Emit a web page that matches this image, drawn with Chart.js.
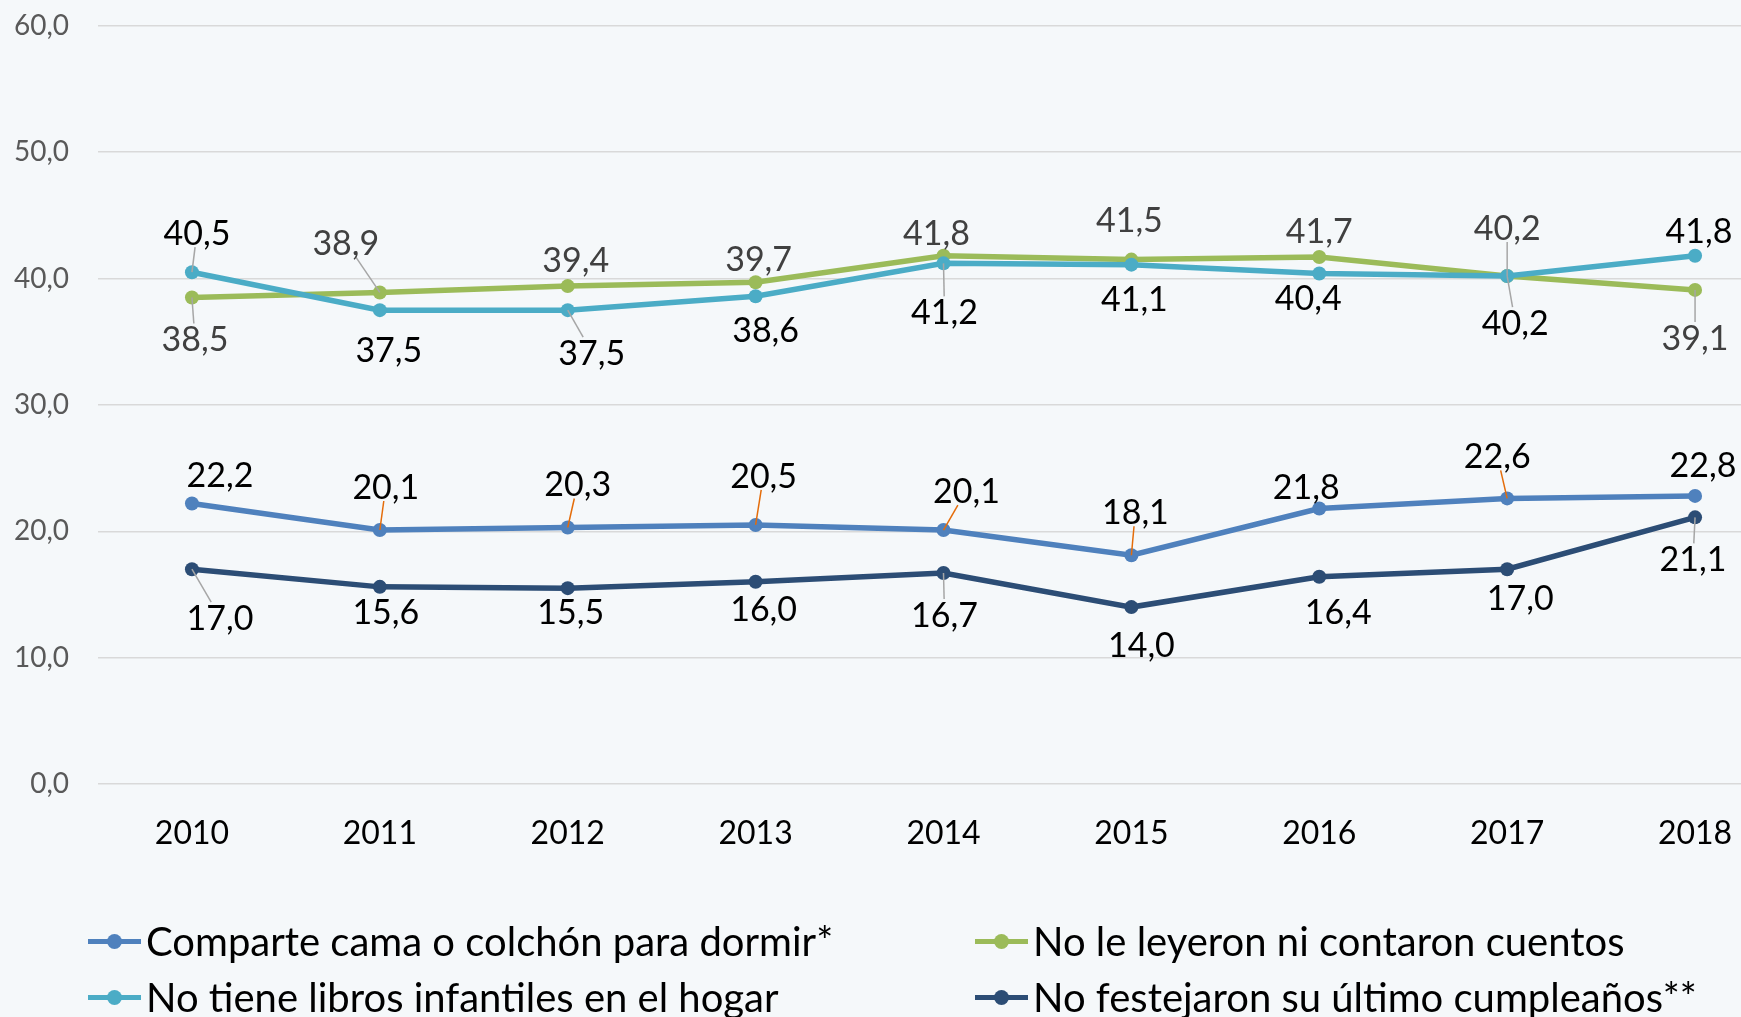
<!DOCTYPE html>
<html>
<head>
<meta charset="utf-8">
<script src="https://cdn.jsdelivr.net/npm/chart.js@4.4.1/dist/chart.umd.min.js"></script>
<style>
  html, body { margin: 0; padding: 0; overflow: hidden; background: #f5f8fa; }
  body { width: 1741px; height: 1017px; position: relative; font-family: Lato, sans-serif; }
  #line-chart { position: absolute; left: 0; top: -20px; }
  .legend-item { position: absolute; height: 50px; display: flex; align-items: center; font-size: 40px; color: #000; white-space: nowrap; }
  .legend-mark { position: relative; width: 53px; height: 5px; margin-right: 5px; flex: none; }
  .legend-mark span { position: absolute; left: 19px; top: -5px; width: 15px; height: 15px; border-radius: 50%; }
</style>
</head>
<body>
<canvas id="line-chart" width="1796" height="1037"></canvas>
<div id="legend"></div>
<script>
const years = ["2010", "2011", "2012", "2013", "2014", "2015", "2016", "2017", "2018"];
const comparteCama = [22.2, 20.1, 20.3, 20.5, 20.1, 18.1, 21.8, 22.6, 22.8];
const noLeyeron = [38.5, 38.9, 39.4, 39.7, 41.8, 41.5, 41.7, 40.2, 39.1];
const sinLibros = [40.5, 37.5, 37.5, 38.6, 41.2, 41.1, 40.4, 40.2, 41.8];
const noFestejaron = [17.0, 15.6, 15.5, 16.0, 16.7, 14.0, 16.4, 17.0, 21.1];

const fmt = (v) => v.toFixed(1).replace(".", ",");

// label placement per point: [dx, dy, leader line?]
const labelsComparte = [[28, -29, 0], [6, -44, 1], [10, -44, 1], [8, -50, 1], [23, -40, 1], [4, -44, 1], [-13, -22, 0], [-10, -43, 1], [8, -32, 0]];
const labelsLeyeron = [[3, 41, 1], [-34, -50, 1], [8, -27, 0], [3, -24, 0], [-7, -24, 0], [-2, -41, 0], [0, -27, 0], [0, -49, 1], [0, 47, 1]];
const labelsLibros = [[5, -40, 1], [9, 39, 0], [24, 42, 1], [10, 33, 0], [1, 48, 1], [3, 33, 0], [-11, 24, 0], [8, 46, 1], [4, -26, 0]];
const labelsFestejo = [[28, 48, 1], [6, 24, 0], [3, 23, 0], [8, 26, 0], [1, 41, 1], [10, 37, 0], [19, 34, 0], [13, 28, 0], [-2, 41, 1]];

const series = [
  { label: "Comparte cama o colchón para dormir*", data: comparteCama, color: "#4f81bd", text: "#000", leader: "#e46c0a", pos: labelsComparte, order: 3 },
  { label: "No le leyeron ni contaron cuentos", data: noLeyeron, color: "#9bbb59", text: "#404040", leader: "#a6a6a6", pos: labelsLeyeron, order: 2 },
  { label: "No tiene libros infantiles en el hogar", data: sinLibros, color: "#4bacc6", text: "#000", leader: "#a6a6a6", pos: labelsLibros, order: 1 },
  { label: "No festejaron su último cumpleaños**", data: noFestejaron, color: "#2c4d75", text: "#000", leader: "#a6a6a6", pos: labelsFestejo, order: 0 },
];

const dataLabels = {
  id: "dataLabels",
  afterDatasetsDraw(chart) {
    const ctx = chart.ctx;
    ctx.save();
    ctx.font = "34px Lato";
    ctx.textAlign = "center";
    ctx.textBaseline = "middle";
    chart.data.datasets.forEach((ds, i) => {
      const meta = chart.getDatasetMeta(i);
      meta.data.forEach((pt, j) => {
        const [dx, dy, lead] = ds.labelPos[j];
        const txt = fmt(ds.data[j]);
        const lx = pt.x + dx, ly = pt.y + dy;
        if (lead) {
          const hw = ctx.measureText(txt).width / 2 + 2, hh = 15;
          const s = 1 - Math.min(hw / Math.abs(dx || 0.01), hh / Math.abs(dy || 0.01));
          ctx.strokeStyle = ds.leaderColor;
          ctx.lineWidth = 1.5;
          ctx.beginPath();
          ctx.moveTo(pt.x, pt.y);
          ctx.lineTo(pt.x + dx * s, pt.y + dy * s);
          ctx.stroke();
        }
        ctx.fillStyle = ds.labelColor;
        ctx.fillText(txt, lx, ly + 2);
      });
    });
    ctx.restore();
  },
};

const chartLine = new Chart(document.getElementById("line-chart").getContext("2d"), {
  type: "line",
  data: {
    labels: years,
    datasets: series.map((s) => ({
      label: s.label,
      data: s.data,
      order: s.order,
      borderColor: s.color,
      backgroundColor: s.color,
      borderWidth: 5.5,
      pointRadius: 7,
      pointHoverRadius: 7,
      pointBorderWidth: 0,
      labelColor: s.text,
      leaderColor: s.leader,
      labelPos: s.pos,
    })),
  },
  options: {
    responsive: false,
    animation: false,
    layout: { padding: { top: 5, right: 2, left: 0, bottom: 0 } },
    plugins: { legend: { display: false }, tooltip: { enabled: false } },
    elements: { line: { tension: 0 } },
    scales: {
      x: {
        offset: true,
        grid: { display: false },
        border: { display: false },
        afterFit: (scale) => { scale.height = 233; },
        ticks: { color: "#000", padding: 22, font: { family: "Lato", size: 32 } },
      },
      y: {
        min: 0,
        max: 60,
        afterFit: (scale) => { scale.width = 98; },
        grid: { color: "#d9d9d9", lineWidth: 1.5, drawTicks: false },
        border: { display: false },
        ticks: {
          stepSize: 10,
          padding: 29,
          color: "#595959",
          font: { family: "Lato", size: 28 },
          callback: (v) => fmt(v),
        },
      },
    },
  },
  plugins: [dataLabels],
});

// legend in two aligned columns
const legendPos = [[88, 916], [975, 916], [88, 972], [975, 972]];
const legend = document.getElementById("legend");
chartLine.data.datasets.forEach((ds, i) => {
  const item = document.createElement("div");
  item.className = "legend-item";
  item.style.left = legendPos[i][0] + "px";
  item.style.top = legendPos[i][1] + "px";
  item.innerHTML = '<div class="legend-mark" style="background:' + ds.borderColor + '"><span style="background:' + ds.borderColor + '"></span></div>';
  item.appendChild(document.createTextNode(ds.label));
  legend.appendChild(item);
});
</script>
</body>
</html>
